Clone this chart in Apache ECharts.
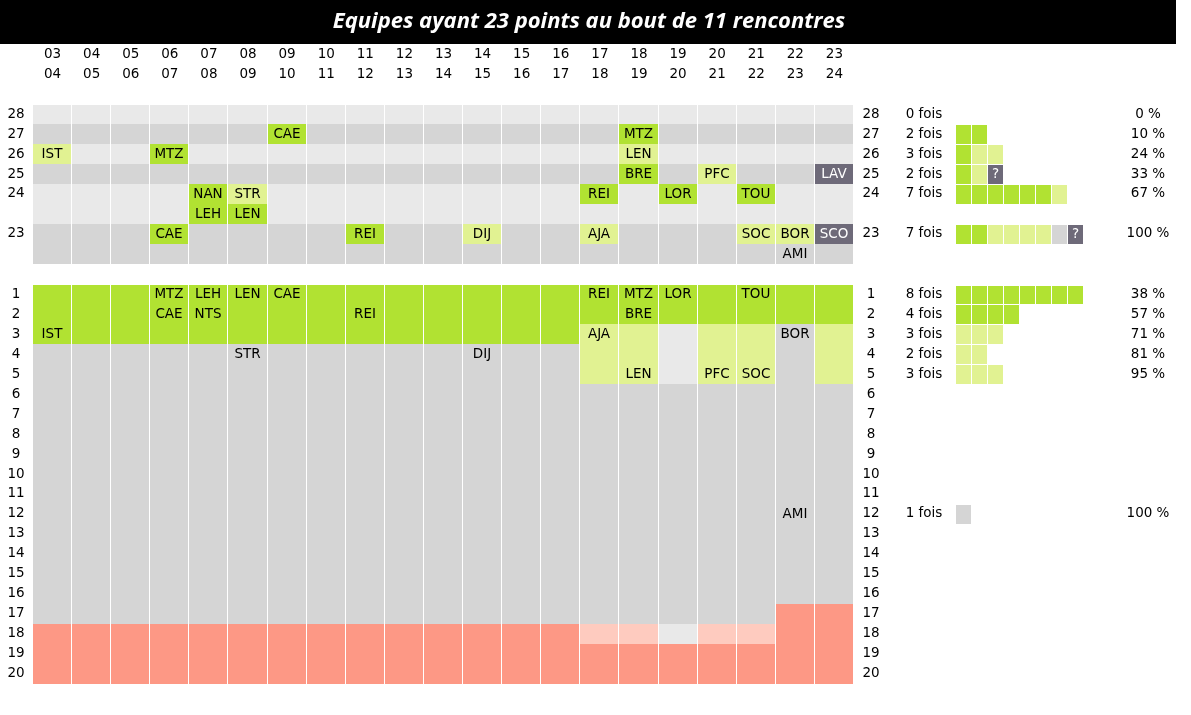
<!DOCTYPE html>
<html><head><meta charset="utf-8">
<script src="https://cdn.jsdelivr.net/npm/echarts@6/dist/echarts.min.js"></script>
<style>html,body{margin:0;padding:0;background:#fff}#c{width:1191px;height:715px}</style>
</head><body><div id="c"></div>
<script>
// ---------- data ----------
const titleText = 'Equipes ayant 23 points au bout de 11 rencontres';
const seasons = ['03\n04','04\n05','05\n06','06\n07','07\n08','08\n09','09\n10','10\n11','11\n12','12\n13','13\n14',
                 '14\n15','15\n16','16\n17','17\n18','18\n19','19\n20','20\n21','21\n22','22\n23','23\n24'];
// points after 11 games (rows ending in "b" are second lines of the same level)
const pointRows = ['28','27','26','25','24','24b','23','23b'];
const rankRows = ['1','2','3','4','5','6','7','8','9','10','11','12','13','14','15','16','17','18','19','20'];

// teams : season index, points after 11 games, final rank, status
// status: P promoted, B not promoted (top of table), N other, U season in progress
const teamCodes  = ['IST','MTZ','CAE','NAN','LEH','STR','LEN','CAE','REI','DIJ','REI','AJA','MTZ','LEN','BRE','LOR','PFC','TOU','SOC','BOR','AMI','LAV','SCO'];
const finalCodes = ['IST','MTZ','CAE','NTS','LEH','STR','LEN','CAE','REI','DIJ','REI','AJA','MTZ','LEN','BRE','LOR','PFC','TOU','SOC','BOR','AMI','LAV','SCO'];
const teamSeason = [0,3,3,4,4,5,5,6,8,11,14,14,15,15,15,16,17,18,18,19,19,20,20];
const teamPoints = [26,26,23,24,24,24,24,27,23,23,24,23,27,26,25,24,25,24,23,23,23,25,23];
const teamRank   = [3,1,2,2,1,4,1,1,2,4,1,3,1,5,2,1,5,1,5,3,12,null,null];
const teamStatus = ['B','P','P','P','P','B','P','P','P','B','P','B','P','B','P','P','B','P','B','B','N','U','U'];

// final table zones per season (rank 1..20): P promoted, B play-off, X no play-off, N neutral, r relegation play-off, R relegated
const Z_A = 'PPPNNNNNNNNNNNNNNRRR';
const Z_B = 'PPBBBNNNNNNNNNNNNrRR';
const Z_C = 'PPXXXNNNNNNNNNNNNXRR';
const Z_D = 'PPNNNNNNNNNNNNNNRRRR';
const Z_E = 'PPBBBNNNNNNNNNNNRRRR';
const seasonZones = [Z_A,Z_A,Z_A,Z_A,Z_A,Z_A,Z_A,Z_A,Z_A,Z_A,Z_A,Z_A,Z_A,Z_A,Z_B,Z_B,Z_C,Z_B,Z_B,Z_D,Z_E];

// cumulative percentages as shown
const pointPct = [0,10,24,33,67,null,100,null];
const rankPctRanks = [1,2,3,4,5,12];
const rankPctValues = [38,57,71,81,95,100];

// ---------- styles ----------
const FONT = '"DejaVu Sans", sans-serif';
const FS = 13.5;
const COLORS = {P:'#b1e232', B:'#e1f292', N:'#d5d5d5', U:'#6e6a79', X:'#e9e9e9', R:'#fd9885', r:'#fecbbf', light:'#e9e9e9', dark:'#d5d5d5'};
const statusOrder = {P:0, B:1, N:2, U:3};

// ---------- derived series data ----------
const topBgData = [], topBgMeta = [];
seasons.forEach((s, c) => pointRows.forEach((p, r) => {
  topBgData.push([c, r]); topBgMeta.push(parseInt(p, 10) % 2 === 0 ? 'light' : 'dark');
}));
const topTeamData = [], topTeamMeta = [];
const occupied = {};
teamCodes.forEach((code, i) => {
  const key = teamSeason[i] + '_' + teamPoints[i];
  let r = pointRows.indexOf(String(teamPoints[i]));
  if (occupied[key]) r += 1;
  occupied[key] = true;
  topTeamData.push([teamSeason[i], r]);
  topTeamMeta.push({code: code, status: teamStatus[i]});
});
const botBgData = [], botBgMeta = [];
seasons.forEach((s, c) => rankRows.forEach((k, r) => {
  botBgData.push([c, r]); botBgMeta.push(seasonZones[c][r]);
}));
const botLabelData = [], botLabelMeta = [];
teamCodes.forEach((code, i) => {
  if (teamRank[i] != null) { botLabelData.push([teamSeason[i], teamRank[i] - 1]); botLabelMeta.push(finalCodes[i]); }
});
// squares
const topSqData = [], topSqMeta = [], topFois = [];
pointRows.forEach((p, r) => {
  if (p.endsWith('b')) { topFois.push(''); return; }
  const idx = teamCodes.map((c, i) => i).filter(i => String(teamPoints[i]) === p)
    .sort((a, b) => statusOrder[teamStatus[a]] - statusOrder[teamStatus[b]]);
  idx.forEach((i, k) => { topSqData.push([k, r]); topSqMeta.push(teamStatus[i]); });
  topFois.push(idx.filter(i => teamStatus[i] !== 'U').length + ' fois');
});
const botSqData = [], botSqMeta = [], botFois = [];
rankRows.forEach((k, r) => {
  const idx = teamCodes.map((c, i) => i).filter(i => teamRank[i] === r + 1)
    .sort((a, b) => statusOrder[teamStatus[a]] - statusOrder[teamStatus[b]]);
  idx.forEach((i, s) => { botSqData.push([s, r]); botSqMeta.push(teamStatus[i]); });
  botFois.push(idx.length ? idx.length + ' fois' : '');
});
const botPct = rankRows.map((k, r) => {
  const j = rankPctRanks.indexOf(r + 1); return j >= 0 ? rankPctValues[j] + ' %' : '';
});
const topPctLabels = pointPct.map(v => v == null ? '' : v + ' %');
const slots = ['1','2','3','4','5','6','7','8'];

// ---------- render helpers ----------
function box(api) {
  const c = api.coord([api.value(0), api.value(1)]);
  const s = api.size([1, 1]);
  return {x0: Math.round(c[0] - s[0] / 2), x1: Math.round(c[0] + s[0] / 2),
          y0: Math.round(c[1] - s[1] / 2), y1: Math.round(c[1] + s[1] / 2)};
}
function bgRender(meta) {
  return (params, api) => {
    const b = box(api);
    return {type: 'rect', shape: {x: b.x0, y: b.y0, width: b.x1 - b.x0 - 1, height: b.y1 - b.y0},
            style: {fill: COLORS[meta[params.dataIndex]]}};
  };
}
function textStyle(text, color) {
  return {style: {text: text, fill: color, font: FS + 'px ' + FONT}};
}
const axisBase = {axisLine: {show: false}, axisTick: {show: false}, splitLine: {show: false}};
const yLabel = (margin, fmt) => ({interval: 0, margin: margin, align: 'center', color: '#000',
  fontFamily: FONT, fontSize: FS, formatter: fmt});

const option = {
  animation: false,
  backgroundColor: '#fff',
  graphic: [
    {type: 'rect', shape: {x: 0, y: 0, width: 1176, height: 44}, style: {fill: '#000'}, z: -1},
    {type: 'text', x: 589, y: 22, style: {text: titleText, fill: '#fff', font: 'italic bold 22px "Open Sans", sans-serif',
      align: 'center', verticalAlign: 'middle', textAlign: 'center', textVerticalAlign: 'middle'}}
  ],
  grid: [
    {left: 33, top: 104.5, width: 821, height: 159},
    {left: 33, top: 284.5, width: 821, height: 399},
    {left: 956, top: 104.5, width: 128, height: 159},
    {left: 956, top: 284.5, width: 128, height: 399}
  ],
  xAxis: [
    Object.assign({type: 'category', gridIndex: 0, position: 'top', data: seasons,
      axisLabel: {interval: 0, margin: 20, lineHeight: 20, color: '#000', fontFamily: FONT, fontSize: FS}}, axisBase),
    Object.assign({type: 'category', gridIndex: 1, data: seasons, axisLabel: {show: false}}, axisBase),
    Object.assign({type: 'category', gridIndex: 2, data: slots, axisLabel: {show: false}}, axisBase),
    Object.assign({type: 'category', gridIndex: 3, data: slots, axisLabel: {show: false}}, axisBase)
  ],
  yAxis: [
    Object.assign({type: 'category', gridIndex: 0, inverse: true, data: pointRows,
      axisLabel: yLabel(17, v => v.endsWith('b') ? '' : v)}, axisBase),
    Object.assign({type: 'category', gridIndex: 0, inverse: true, position: 'right', data: pointRows,
      axisLabel: yLabel(17, v => v.endsWith('b') ? '' : v)}, axisBase),
    Object.assign({type: 'category', gridIndex: 1, inverse: true, data: rankRows,
      axisLabel: yLabel(17)}, axisBase),
    Object.assign({type: 'category', gridIndex: 1, inverse: true, position: 'right', data: rankRows,
      axisLabel: yLabel(17)}, axisBase),
    Object.assign({type: 'category', gridIndex: 2, inverse: true, data: pointRows,
      axisLabel: yLabel(32, (v, i) => topFois[i])}, axisBase),
    Object.assign({type: 'category', gridIndex: 2, inverse: true, position: 'right', data: pointRows,
      axisLabel: yLabel(64, (v, i) => topPctLabels[i])}, axisBase),
    Object.assign({type: 'category', gridIndex: 3, inverse: true, data: rankRows,
      axisLabel: yLabel(32, (v, i) => botFois[i])}, axisBase),
    Object.assign({type: 'category', gridIndex: 3, inverse: true, position: 'right', data: rankRows,
      axisLabel: yLabel(64, (v, i) => botPct[i])}, axisBase)
  ],
  series: [
    {type: 'custom', name: 'fond points', xAxisIndex: 0, yAxisIndex: 0, data: topBgData,
      encode: {x: 0, y: 1}, renderItem: bgRender(topBgMeta), silent: true},
    {type: 'custom', name: 'équipes', xAxisIndex: 0, yAxisIndex: 0, data: topTeamData, encode: {x: 0, y: 1}, z: 3,
      renderItem: (params, api) => {
        const b = box(api); const m = topTeamMeta[params.dataIndex];
        return {type: 'rect', shape: {x: b.x0, y: b.y0, width: b.x1 - b.x0 - 1, height: b.y1 - b.y0},
          style: {fill: m.status === 'N' ? 'rgba(0,0,0,0)' : COLORS[m.status]},
          textContent: textStyle(m.code, m.status === 'U' ? '#fff' : '#000'),
          textConfig: {position: 'inside'}};
      }},
    {type: 'custom', name: 'classement', xAxisIndex: 1, yAxisIndex: 2, data: botBgData,
      encode: {x: 0, y: 1}, renderItem: bgRender(botBgMeta), silent: true},
    {type: 'custom', name: 'classement final', xAxisIndex: 1, yAxisIndex: 2, data: botLabelData, encode: {x: 0, y: 1}, z: 3,
      renderItem: (params, api) => {
        const b = box(api);
        return {type: 'rect', shape: {x: b.x0, y: b.y0, width: b.x1 - b.x0 - 1, height: b.y1 - b.y0},
          style: {fill: 'rgba(0,0,0,0)'}, textContent: textStyle(botLabelMeta[params.dataIndex], '#000'),
          textConfig: {position: 'inside'}};
      }},
    {type: 'custom', name: 'cumul points', xAxisIndex: 2, yAxisIndex: 4, data: topSqData, encode: {x: 0, y: 1},
      renderItem: (params, api) => {
        const b = box(api); const st = topSqMeta[params.dataIndex];
        return {type: 'rect', shape: {x: b.x0, y: b.y0 + 1, width: b.x1 - b.x0 - 1, height: b.y1 - b.y0 - 1},
          style: {fill: COLORS[st]},
          textContent: st === 'U' ? textStyle('?', '#fff') : undefined, textConfig: {position: 'inside'}};
      }},
    {type: 'custom', name: 'cumul classement', xAxisIndex: 3, yAxisIndex: 6, data: botSqData, encode: {x: 0, y: 1},
      renderItem: (params, api) => {
        const b = box(api); const st = botSqMeta[params.dataIndex];
        return {type: 'rect', shape: {x: b.x0, y: b.y0 + 1, width: b.x1 - b.x0 - 1, height: b.y1 - b.y0 - 1},
          style: {fill: COLORS[st]}};
      }}
  ]
};
const chart = echarts.init(document.getElementById('c'), null, {renderer: 'canvas'});
chart.setOption(option);
</script>
</body></html>
